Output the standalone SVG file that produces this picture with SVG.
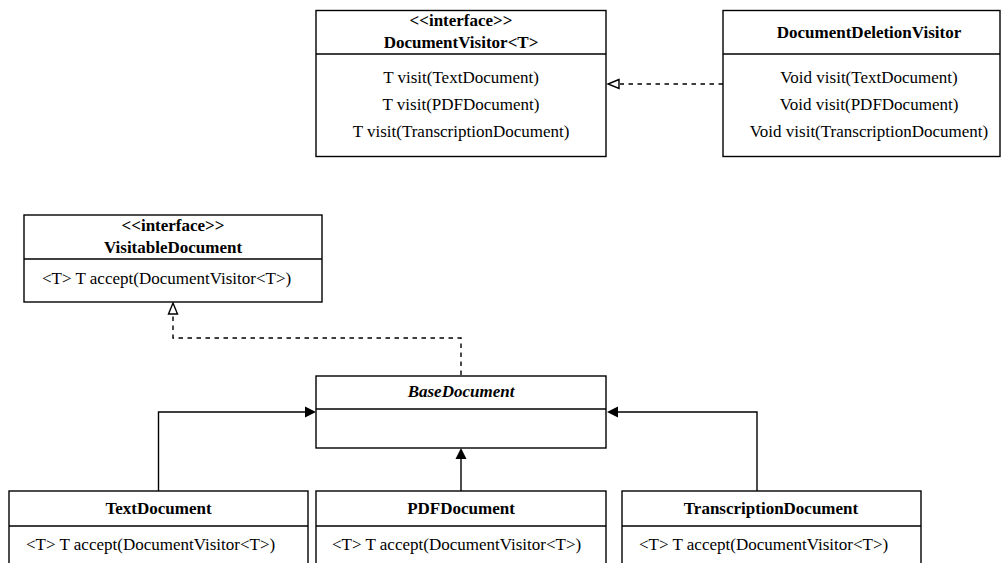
<svg xmlns="http://www.w3.org/2000/svg" width="1006" height="563" viewBox="0 0 1006 563">
<style>
.box{fill:#fff;stroke:#000;stroke-width:1.4}
.div{stroke:#000;stroke-width:1.4}
text{font-family:"Liberation Serif","Times New Roman",serif;font-size:17px;fill:#000}
.t{font-weight:bold;text-anchor:middle}
.ti{font-weight:bold;font-style:italic;text-anchor:middle}
.c{text-anchor:middle}
.l{text-anchor:start}
.edge{fill:none;stroke:#000;stroke-width:1.4}
.dash{stroke-dasharray:4.5 4.5}
</style>
<defs>
<marker id="open" markerWidth="14" markerHeight="12" refX="1" refY="6" orient="auto" markerUnits="userSpaceOnUse">
<path d="M12,2 L1,6 L12,10 Z" fill="#fff" stroke="#000" stroke-width="1.4"/>
</marker>
<marker id="filled" markerWidth="14" markerHeight="14" refX="1" refY="7" orient="auto" markerUnits="userSpaceOnUse">
<path d="M12,1.5 L1,7 L12,12.5 Z" fill="#000" stroke="#000" stroke-width="1"/>
</marker>
</defs>
<g id="connectors">
<path class="edge dash" d="M723,84 L620,84"/>
<path d="M619,79.5 L608,84 L619,88.5 Z" fill="#fff" stroke="#000" stroke-width="1.4"/>
<path class="edge dash" d="M461,375 L461,338 L173,338 L173,314"/>
<path d="M168.5,314 L173,303 L177.5,314 Z" fill="#fff" stroke="#000" stroke-width="1.4"/>
<path class="edge" d="M158.5,491 L158.5,412 L305,412"/>
<path d="M305,406.5 L316,412 L305,417.5 Z" fill="#000"/>
<path class="edge" d="M757,491 L757,412 L618,412"/>
<path d="M618,406.5 L607,412 L618,417.5 Z" fill="#000"/>
<path class="edge" d="M461,491 L461,459"/>
<path d="M455.5,459 L461,448 L466.5,459 Z" fill="#000"/>
</g>
<g id="DocumentVisitor">
<rect class="box" x="316" y="10.5" width="290" height="146"/>
<line class="div" x1="316" y1="54" x2="606" y2="54"/>
<text class="t" x="461" y="26">&lt;&lt;interface&gt;&gt;</text>
<text class="t" x="461" y="48">DocumentVisitor&lt;T&gt;</text>
<text class="c" x="461" y="83">T visit(TextDocument)</text>
<text class="c" x="461" y="110">T visit(PDFDocument)</text>
<text class="c" x="461" y="137">T visit(TranscriptionDocument)</text>
</g>
<g id="DocumentDeletionVisitor">
<rect class="box" x="723" y="10.5" width="277" height="146"/>
<line class="div" x1="723" y1="54" x2="1000" y2="54"/>
<text class="t" x="869" y="38">DocumentDeletionVisitor</text>
<text class="c" x="869" y="83">Void visit(TextDocument)</text>
<text class="c" x="869" y="110">Void visit(PDFDocument)</text>
<text class="c" x="869" y="137">Void visit(TranscriptionDocument)</text>
</g>
<g id="VisitableDocument">
<rect class="box" x="24" y="215" width="298" height="87"/>
<line class="div" x1="24" y1="259" x2="322" y2="259"/>
<text class="t" x="173" y="231">&lt;&lt;interface&gt;&gt;</text>
<text class="t" x="173" y="253">VisitableDocument</text>
<text class="l" x="42" y="284">&lt;T&gt; T accept(DocumentVisitor&lt;T&gt;)</text>
</g>
<g id="BaseDocument">
<rect class="box" x="316" y="376" width="290" height="72"/>
<line class="div" x1="316" y1="409" x2="606" y2="409"/>
<text class="ti" x="461" y="397">BaseDocument</text>
</g>
<g id="TextDocument">
<rect class="box" x="9" y="491" width="299" height="120"/>
<line class="div" x1="9" y1="526" x2="308" y2="526"/>
<text class="t" x="158.5" y="514">TextDocument</text>
<text class="l" x="26" y="550">&lt;T&gt; T accept(DocumentVisitor&lt;T&gt;)</text>
</g>
<g id="PDFDocument">
<rect class="box" x="316" y="491" width="290" height="120"/>
<line class="div" x1="316" y1="526" x2="606" y2="526"/>
<text class="t" x="461" y="514">PDFDocument</text>
<text class="l" x="332" y="550">&lt;T&gt; T accept(DocumentVisitor&lt;T&gt;)</text>
</g>
<g id="TranscriptionDocument">
<rect class="box" x="622" y="491" width="299" height="120"/>
<line class="div" x1="622" y1="526" x2="921" y2="526"/>
<text class="t" x="771" y="514">TranscriptionDocument</text>
<text class="l" x="639" y="550">&lt;T&gt; T accept(DocumentVisitor&lt;T&gt;)</text>
</g>
</svg>
